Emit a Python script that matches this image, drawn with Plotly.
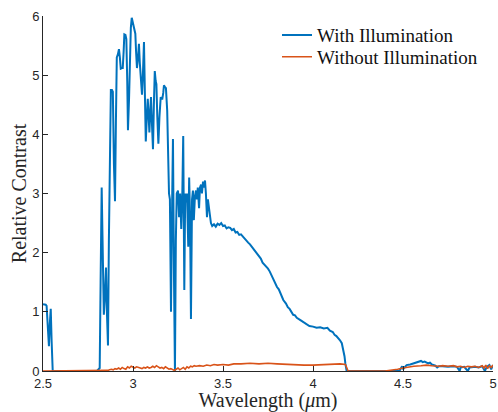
import plotly.graph_objects as go

# ---- data ----
wl_with = [2.5, 2.515, 2.52, 2.527, 2.533, 2.538, 2.543, 2.548, 2.554, 2.8, 2.805, 2.81, 2.815,
           2.82, 2.826, 2.832, 2.838, 2.843, 2.85, 2.855, 2.861, 2.866, 2.872, 2.877, 2.883, 2.888,
           2.894, 2.9, 2.905, 2.91, 2.916, 2.922, 2.927, 2.932, 2.938, 2.943, 2.948, 2.952, 2.958,
           2.963, 2.968, 2.972, 2.978, 2.983, 2.988, 2.993, 3.0, 3.007, 3.013, 3.017, 3.022, 3.028,
           3.033, 3.038, 3.044, 3.05, 3.055, 3.061, 3.066, 3.071, 3.077, 3.082, 3.087, 3.091, 3.096,
           3.1, 3.105, 3.111, 3.116, 3.121, 3.126, 3.13, 3.135, 3.141, 3.147, 3.154, 3.158, 3.163,
           3.168, 3.172, 3.177, 3.183, 3.19, 3.196, 3.2, 3.205, 3.211, 3.218, 3.222, 3.228, 3.233,
           3.238, 3.243, 3.25, 3.256, 3.262, 3.268, 3.274, 3.279, 3.285, 3.29, 3.296, 3.3, 3.307,
           3.312, 3.317, 3.322, 3.328, 3.333, 3.338, 3.344, 3.35, 3.355, 3.36, 3.367, 3.372, 3.378,
           3.383, 3.389, 3.394, 3.4, 3.405, 3.411, 3.416, 3.42, 3.427, 3.433, 3.44, 3.45, 3.46,
           3.47, 3.48, 3.49, 3.5, 3.51, 3.52, 3.53, 3.54, 3.55, 3.56, 3.57, 3.58, 3.59, 3.6, 3.61,
           3.62, 3.63, 3.64, 3.65, 3.66, 3.67, 3.68, 3.69, 3.7, 3.71, 3.72, 3.73, 3.74, 3.75, 3.76,
           3.77, 3.78, 3.79, 3.8, 3.81, 3.82, 3.835, 3.85, 3.86, 3.87, 3.88, 3.89, 3.9, 3.91, 3.93,
           3.95, 3.965, 3.98, 4.0, 4.02, 4.04, 4.06, 4.08, 4.094, 4.11, 4.12, 4.13, 4.14, 4.15,
           4.16, 4.17, 4.175, 4.18, 4.187, 4.48, 4.49, 4.495, 4.5, 4.51, 4.52, 4.54, 4.56, 4.58,
           4.6, 4.61, 4.62, 4.64, 4.65, 4.66, 4.68, 4.69, 4.7, 4.72, 4.75, 4.78, 4.8, 4.815, 4.82,
           4.84, 4.86, 4.87, 4.9, 4.92, 4.94, 4.955, 4.965, 4.98, 4.99, 5.0]
contrast_with = [1.13, 1.12, 1.1, 0.7, 0.42, 0.8, 1.05, 0.5, 0.0, 0.0, 0.02, 0.05, 0.05,
                 1.5, 3.1, 2.0, 0.95, 1.2, 1.75, 1.0, 0.43, 2.2, 4.0, 4.75, 4.75, 4.72,
                 3.5, 2.87, 4.2, 5.3, 5.35, 5.44, 5.3, 5.11, 5.12, 5.12, 5.4, 5.69, 5.68,
                 5.61, 4.9, 4.07, 4.6, 5.3, 5.8, 5.97, 5.88, 5.76, 5.7, 5.4, 5.12, 5.3,
                 5.53, 5.2, 4.92, 4.67, 5.0, 5.56, 4.7, 3.88, 4.3, 4.6, 4.3, 4.03, 4.4,
                 4.63, 4.2, 3.75, 4.5, 5.07, 4.9, 4.85, 4.3, 3.84, 4.3, 4.63, 4.6, 4.6,
                 4.7, 4.83, 4.8, 4.78, 4.4, 3.6, 3.0, 2.9, 1.0, 3.0, 3.92, 1.5, 0.0,
                 2.2, 3.0, 3.05, 2.6, 3.0, 2.4, 3.0, 3.97, 1.37, 3.0, 2.85, 3.0, 2.1,
                 3.27, 2.6, 0.88, 2.9, 3.05, 2.55, 2.95, 3.05, 2.9, 3.1, 2.75, 3.1, 3.15,
                 3.0, 3.2, 3.1, 3.22, 3.0, 2.6, 2.9, 2.8, 2.62, 2.5, 2.45, 2.48, 2.44,
                 2.49, 2.47, 2.5, 2.45, 2.46, 2.41, 2.43, 2.42, 2.38, 2.4, 2.34, 2.35, 2.3, 2.31, 2.27,
                 2.24, 2.2, 2.17, 2.14, 2.1, 2.05, 2.02, 1.96, 1.93, 1.9, 1.83, 1.8, 1.77, 1.73, 1.68,
                 1.61, 1.55, 1.5, 1.42, 1.38, 1.3, 1.2, 1.14, 1.08, 1.05, 1.0, 0.95, 0.94, 0.9, 0.86,
                 0.82, 0.78, 0.76, 0.75, 0.73, 0.74, 0.72, 0.73, 0.68, 0.66, 0.61, 0.59, 0.56, 0.52,
                 0.47, 0.35, 0.25, 0.12, 0.0, 0.0, 0.04, 0.08, 0.03, 0.07, 0.1, 0.11, 0.13, 0.15,
                 0.17, 0.15, 0.16, 0.13, 0.14, 0.11, 0.09, 0.06, 0.08, 0.08, 0.07, 0.08, 0.07, 0.0, 0.06,
                 0.07, 0.0, 0.06, 0.07, 0.06, 0.08, 0.0, 0.07, 0.1, 0.03, 0.1]

wl_without = [2.5, 2.85, 2.86, 2.87, 2.88, 2.89, 2.9, 2.91, 2.92, 2.93, 2.94, 2.95, 2.96, 2.97,
              2.98, 2.99, 3.0, 3.01, 3.02, 3.03, 3.04, 3.05, 3.06, 3.07, 3.08, 3.09, 3.1, 3.11,
              3.12, 3.13, 3.14, 3.15, 3.16, 3.17, 3.18, 3.19, 3.2, 3.21, 3.22, 3.23, 3.24, 3.25,
              3.26, 3.27, 3.28, 3.29, 3.3, 3.31, 3.32, 3.33, 3.34, 3.35, 3.37, 3.39, 3.41, 3.43,
              3.45, 3.47, 3.5, 3.53, 3.56, 3.6, 3.65, 3.7, 3.75, 3.8, 3.85, 3.9, 3.95, 4.0, 4.05,
              4.1, 4.15, 4.18, 4.19, 4.195, 4.4, 4.44, 4.47, 4.5, 4.53, 4.56, 4.6, 4.63, 4.66, 4.7,
              4.72, 4.75, 4.78, 4.8, 4.82, 4.84, 4.86, 4.88, 4.9, 4.92, 4.94, 4.95, 4.96, 4.97,
              4.98, 4.99, 5.0]
contrast_without = [0.0, 0.0, 0.01, 0.02, 0.03, 0.02, 0.04, 0.03, 0.05, 0.03, 0.06, 0.04, 0.03, 0.07,
                    0.05, 0.08, 0.06, 0.05, 0.07, 0.06, 0.05, 0.04, 0.06, 0.05, 0.07, 0.05, 0.06, 0.08,
                    0.06, 0.09, 0.07, 0.05, 0.06, 0.04, 0.07, 0.05, 0.03, 0.04, 0.02, 0.01, 0.03, 0.05,
                    0.02, 0.04, 0.06, 0.03, 0.07, 0.05, 0.08, 0.07, 0.09, 0.08, 0.09, 0.08, 0.1, 0.09,
                    0.11, 0.1, 0.11, 0.1, 0.12, 0.12, 0.13, 0.12, 0.13, 0.12, 0.11, 0.1, 0.1, 0.1, 0.11,
                    0.12, 0.12, 0.11, 0.05, 0.0, 0.0, 0.01, 0.03, 0.05, 0.07, 0.08, 0.09, 0.1, 0.09, 0.08,
                    0.09, 0.08, 0.09, 0.07, 0.08, 0.06, 0.08, 0.07, 0.08, 0.06, 0.09, 0.05, 0.1, 0.04,
                    0.09, 0.06, 0.1]

x_ticks = [2.5, 3, 3.5, 4, 4.5, 5]
x_tick_labels = ["2.5", "3", "3.5", "4", "4.5", "5"]
y_ticks = [0, 1, 2, 3, 4, 5, 6]

fig = go.Figure()
fig.add_trace(go.Scatter(x=wl_with, y=contrast_with, mode="lines", name="With Illumination",
                         line=dict(color="#0072BD", width=2), legend="legend", showlegend=True))
fig.add_trace(go.Scatter(x=wl_without, y=contrast_without, mode="lines", name="Without Illumination",
                         line=dict(color="#D95319", width=1.6), legend="legend2", showlegend=True))

axis_common = dict(showgrid=False, zeroline=False, showline=True, linecolor="#262626", linewidth=1,
                   ticks="inside", ticklen=5, tickcolor="#262626", automargin=False,
                   tickfont=dict(family="Liberation Sans, Arial", size=13, color="#262626"))
fig.update_xaxes(range=[2.5, 5], tickvals=x_ticks, ticktext=x_tick_labels,
                 title=dict(text="Wavelength (<i>μ</i>m)", font=dict(family="Liberation Serif", size=20, color="#262626"),
                            standoff=4), **axis_common)
fig.update_yaxes(range=[0, 6], tickvals=y_ticks,
                 title=dict(text="Relative Contrast", font=dict(family="Liberation Serif", size=20, color="#262626"),
                            standoff=0), **axis_common)

leg_font = dict(family="Liberation Serif", size=19, color="#111111")
fig.update_layout(width=498, height=412, margin=dict(l=43, r=5, t=16, b=41),
                  plot_bgcolor="white", paper_bgcolor="white", showlegend=True,
                  legend=dict(visible=True, x=0.52, y=0.946, xanchor="left", yanchor="middle",
                              bgcolor="rgba(255,255,255,0)", font=leg_font, itemwidth=30),
                  legend2=dict(visible=True, x=0.52, y=0.885, xanchor="left", yanchor="middle",
                               bgcolor="rgba(255,255,255,0)", font=leg_font, itemwidth=30))
fig.write_html("out.html")
